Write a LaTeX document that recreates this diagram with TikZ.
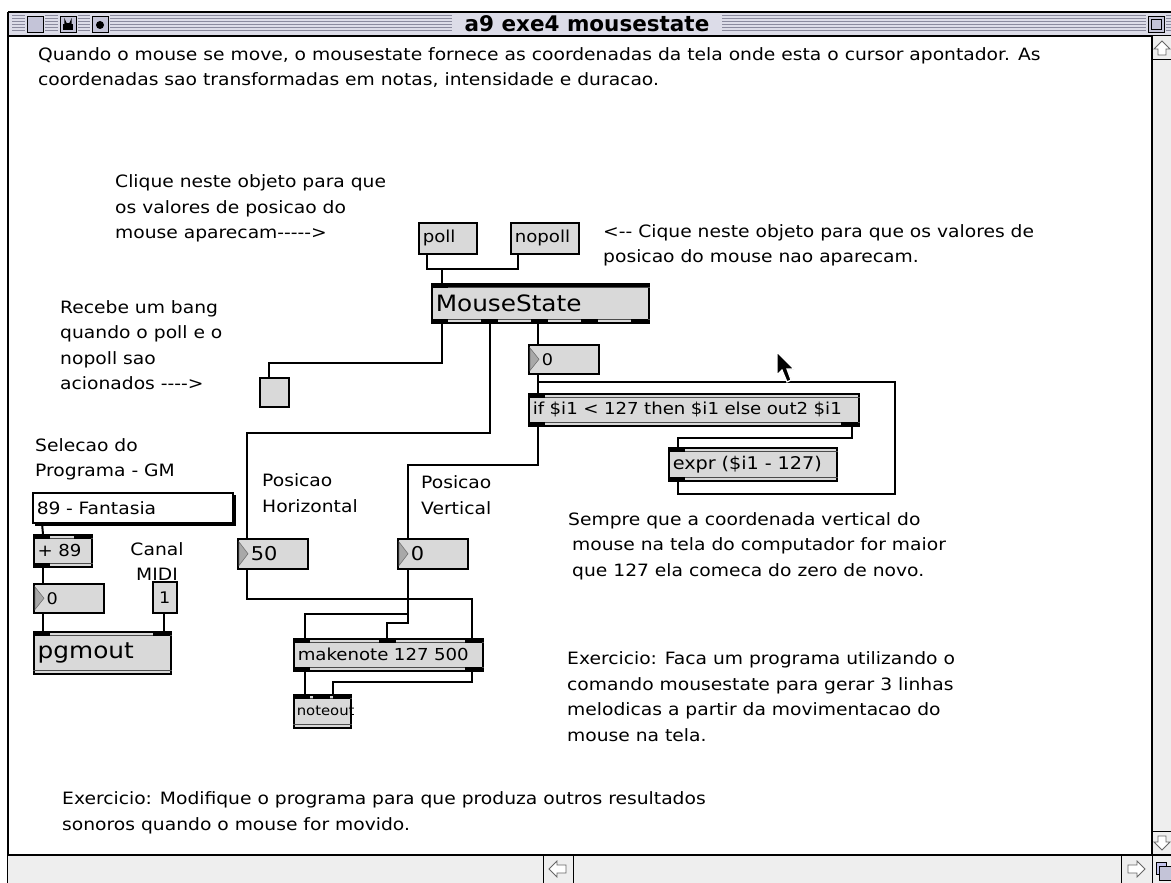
\documentclass[tikz,border=0pt]{standalone}
\usepackage{fontspec}
\newfontfamily\gen[Ligatures=TeXOff,FakeStretch=1.10]{DejaVu Sans}
\newfontfamily\ttlfam[Ligatures=TeXOff]{DejaVu Sans}
\newcommand\lblfont{\gen\fontsize{17}{25.5}\selectfont}
\newcommand\objfont{\gen\fontsize{16.5}{18}\selectfont}
\newcommand\numfont{\gen\fontsize{16}{18}\selectfont}
\newcommand\bignumfont{\gen\fontsize{19}{20}\selectfont}
\newcommand\bigfont{\gen\fontsize{22.5}{26}\selectfont}
\newcommand\titlefont{\ttlfam\bfseries\fontsize{21.5}{24}\selectfont}
\definecolor{objgray}{HTML}{D9D9D9}
\definecolor{barbg}{HTML}{DCDCE8}
\definecolor{stripecol}{HTML}{8A8A9E}
\definecolor{scrollbg}{HTML}{EEEEEE}
\definecolor{tricol}{HTML}{A8A8A8}
\definecolor{iconfill}{HTML}{C4C4D8}
\tikzset{
  cord/.style={line width=2pt},
  lbl/.style={font=\lblfont, align=left, inner sep=0pt, anchor=west},
  patchbox/.style={draw, line width=1.5pt, fill=objgray, anchor=north west,
    inner xsep=4pt, inner ysep=0pt, align=left},
  objbox/.style={patchbox, font=\objfont},
  bigbox/.style={patchbox, font=\bigfont},
  numbox/.style={patchbox, font=\numfont},
  bignumbox/.style={patchbox, font=\bignumfont},
  stripe/.style={draw=stripecol, line width=1pt},
  arrowicon/.style={draw=black!60, line width=0.8pt, fill=white},
}
% double rule along top and bottom of an object box
\newcommand\pbars[1]{\draw[line width=0.8pt, black!70]
  ([yshift=-4.5]#1.north west) -- ([yshift=-4.5]#1.north east)
  ([yshift=4.5]#1.south west) -- ([yshift=4.5]#1.south east);}
\newcommand\pinlet[2]{\fill ([xshift=#2]#1.north west) rectangle ++(17,5);}
\newcommand\poutlet[2]{\fill ([xshift=#2]#1.south west) rectangle ++(17,-5);}
% triangle of a number box
\newcommand\ptri[1]{\draw[fill=tricol, draw=black!55, line width=0.6pt]
  ([xshift=2,yshift=-4]#1.north west) -- ([xshift=11]#1.west) --
  ([xshift=2,yshift=4]#1.south west) -- cycle;}
\begin{document}
\begin{tikzpicture}[x=1pt,y=-1pt]
\useasboundingbox (0,0) rectangle (1171,883);
\fill[white] (0,0) rectangle (1171,883);

% ---------- window frame ----------
\fill[barbg] (8,12) rectangle (1171,36);
\foreach \yy in {16,19,22,25,28,31}
  \draw[stripe] (12,\yy) -- (1171,\yy);
\fill[barbg] (452,13) rectangle (722,35);
\node[font=\titlefont, inner sep=0pt] (title) at (587,24) {a9 exe4 mousestate};
% title bar boxes
\foreach \xx in {25,58,90,1146}
  \fill[barbg] (\xx,13) rectangle ({\xx+20},35);
\draw[fill=iconfill, line width=0.8pt] (27,16) rectangle (43,32);
\draw[fill=iconfill, line width=0.8pt] (60,16) rectangle (76,32);
\fill (63,24) rectangle (73,30);
\draw[line width=1.2pt] (65,24) -- (65,21) arc[start angle=180, end angle=0, radius=3] -- (71,24);
\draw[fill=iconfill, line width=0.8pt] (92,16) rectangle (108,32);
\fill (100,25) circle[radius=4];
\draw[fill=iconfill, line width=0.8pt] (1148,16) rectangle (1164,32);
\draw[line width=0.8pt] (1151,19) rectangle (1161,29);
\draw[line width=1.5pt] (8,12) -- (1171,12);
\draw[line width=1.5pt] (8,12) -- (8,883);
\draw[line width=1.2pt] (8,36) -- (1171,36);

% right scroll bar
\fill[scrollbg] (1152,36) rectangle (1171,855);
\draw[line width=1.2pt] (1152,36) -- (1152,883);
\draw[arrowicon] (1162,41) -- (1170,49) -- (1166,49) -- (1166,55) -- (1158,55) -- (1158,49) -- (1154,49) -- cycle;
\draw[line width=0.8pt] (1152,59) -- (1171,59);
\draw[arrowicon] (1162,850) -- (1170,842) -- (1166,842) -- (1166,836) -- (1158,836) -- (1158,842) -- (1154,842) -- cycle;
\draw[line width=0.8pt] (1152,831) -- (1171,831);

% bottom scroll bar
\fill[scrollbg] (8,855) rectangle (1152,883);
\draw[line width=1.2pt] (8,855) -- (1171,855);
\draw[line width=0.8pt] (543,855) -- (543,883) (573,855) -- (573,883) (1121,855) -- (1121,883);
\draw[arrowicon] (549,869) -- (557,861) -- (557,865) -- (566,865) -- (566,873) -- (557,873) -- (557,877) -- cycle;
\draw[arrowicon] (1145,869) -- (1137,861) -- (1137,865) -- (1128,865) -- (1128,873) -- (1137,873) -- (1137,877) -- cycle;
\fill[scrollbg] (1153,856) rectangle (1171,883);
\draw[fill=iconfill!80!blue!60, line width=0.8pt] (1156,862) rectangle (1166,874);
\draw[fill=iconfill, line width=0.8pt] (1159,866) rectangle (1171,880);

% ---------- comments ----------
\node[lbl] (intro) at (38,67.5) {Quando o mouse se move, o mousestate fornece as coordenadas da tela onde esta o cursor apontador. As\\coordenadas sao transformadas em notas, intensidade e duracao.};
\node[lbl] (clique) at (115,208.5) {Clique neste objeto para que\\os valores de posicao do\\mouse aparecam----->};
\node[lbl] (cique) at (603,245.5) {<-- Cique neste objeto para que os valores de\\posicao do mouse nao aparecam.};
\node[lbl] (recebe) at (60,345) {Recebe um bang\\quando o poll e o\\nopoll sao\\acionados ---->};
\node[lbl] (selecao) at (35,459.5) {Selecao do\\Programa - GM};
\node[lbl, align=center, anchor=center] (canal) at (157,561.5) {Canal\\MIDI};
\node[lbl] (posh) at (262,493) {Posicao\\Horizontal};
\node[lbl] (posv) at (421,495) {Posicao\\Vertical};
\node[lbl] (sempre) at (568,546) {Sempre que a coordenada vertical do\\\hspace*{4pt}mouse na tela do computador for maior\\\hspace*{4pt}que 127 ela comeca do zero de novo.};
\node[lbl] (exer1) at (567,696.5) {Exercicio: Faca um programa utilizando o\\comando mousestate para gerar 3 linhas\\melodicas a partir da movimentacao do\\mouse na tela.};
\node[lbl] (exer2) at (62,813) {Exercicio: Modifique o programa para que produza outros resultados\\sonoros quando o mouse for movido.};

% ---------- patcher boxes ----------
\node[objbox, minimum height=31, text width=50] (poll) at (418,222) {poll};
\node[objbox, minimum height=31, text width=60] (nopoll) at (510,222) {nopoll};

\node[bigbox, minimum height=39, text width=209] (ms) at (431,283) {MouseState};
\pbars{ms}
\fill ([yshift=-1]ms.north west) rectangle ([yshift=-4]ms.north east);
\pinlet{ms}{0}
\foreach \o in {0,50,100,150,200} {\poutlet{ms}{\o}}

\node[patchbox, minimum width=29, minimum height=29, inner sep=0pt] (bang) at (259,377) {};

\node[numbox, minimum height=29, text width=62] (numA) at (528,344) {\hspace*{9pt}0};
\ptri{numA}

\node[objbox, minimum height=32, text width=322] (ifbox) at (528,393) {if \$i1 < 127 then \$i1 else out2 \$i1};
\pbars{ifbox}
\pinlet{ifbox}{0}
\poutlet{ifbox}{0}\poutlet{ifbox}{313}

\node[objbox, font=\gen\fontsize{17.5}{18}\selectfont, minimum height=33, text width=160] (expr) at (668,447) {expr (\$i1 - 127)};
\pbars{expr}
\pinlet{expr}{0}\poutlet{expr}{0}

\node[patchbox, fill=white, font=\lblfont, minimum height=30, text width=192] (menu) at (32,492) {89 - Fantasia};
\draw[line width=2pt] ([xshift=1.5,yshift=-3]menu.north east) -- ([xshift=1.5,yshift=-1.5]menu.south east) -- ([xshift=3,yshift=-1.5]menu.south west);

\node[objbox, minimum height=32, text width=50] (plus) at (33,534) {+ 89};
\pbars{plus}
\pinlet{plus}{0}\pinlet{plus}{41}\poutlet{plus}{0}

\node[numbox, minimum height=29, text width=62] (numB) at (33,583) {\hspace*{9pt}0};
\ptri{numB}

\node[numbox, minimum height=31, text width=18, inner xsep=3pt, align=center] (numC) at (152,581) {1};

\node[bigbox, minimum height=42, text width=129] (pg) at (33,631) {pgmout};
\pbars{pg}
\pinlet{pg}{0}\pinlet{pg}{120}

\node[bignumbox, minimum height=30, text width=62] (numH) at (237,538) {\hspace*{9pt}50};
\ptri{numH}
\node[bignumbox, minimum height=30, text width=62] (numV) at (397,538) {\hspace*{9pt}0};
\ptri{numV}

\node[objbox, minimum height=32, text width=181] (mk) at (293,638) {makenote 127 500};
\pbars{mk}
\pinlet{mk}{0}\pinlet{mk}{86}\pinlet{mk}{172}
\poutlet{mk}{0}\poutlet{mk}{172}

\node[objbox, font=\gen\fontsize{13.5}{16}\selectfont, minimum height=33, text width=51, inner xsep=3pt] (nout) at (293,694) {noteout};
\pbars{nout}
\pinlet{nout}{0}\pinlet{nout}{20}\pinlet{nout}{40}

% ---------- patch cords ----------
\draw[cord] ([xshift=9]poll.south west) -- ++(0,14) -| ([xshift=11]ms.north west);
\draw[cord] ([xshift=8]nopoll.south west) -- ++(0,14) -| ([xshift=11]ms.north west);
\draw[cord] ([xshift=11]ms.south west) -- ++(0,39) -| ([xshift=10]bang.north west);
\draw[cord] ([xshift=59]ms.south west) -- ++(0,109) -| ([xshift=10]numH.north west);
\draw[cord] ([xshift=107]ms.south west) -- ([xshift=10]numA.north west);
\draw[cord] ([xshift=10]numA.south west) -- ([xshift=10]ifbox.north west);
\draw[cord] ([xshift=10]expr.south west) -- ++(0,12) -- ++(217,0)
  |- ([xshift=10,yshift=11]ifbox.north west) -- ([xshift=10]ifbox.north west);
\draw[cord] ([xshift=-8]ifbox.south east) -- ++(0,11) -| ([xshift=10]expr.north west);
\draw[cord] ([xshift=10]ifbox.south west) -- ++(0,38) -| ([xshift=11]numV.north west);
\draw[cord] ([xshift=10]numH.south west) -- ++(0,29) -| ([xshift=-12]mk.north east);
\draw[cord] ([xshift=11]numV.south west) -- ++(0,44) -| ([xshift=12]mk.north west);
\draw[cord] ([xshift=11]numV.south west) -- ++(0,53) -| ([xshift=94]mk.north west);
\draw[cord] ([xshift=12]mk.south west) -- ([xshift=12]nout.north west);
\draw[cord] ([xshift=-12]mk.south east) -- ++(0,10) -| ([xshift=40]nout.north west);
\draw[cord] ([xshift=10]menu.south west) -- ([xshift=10]plus.north west);
\draw[cord] ([xshift=10]plus.south west) -- ([xshift=10]numB.north west);
\draw[cord] ([xshift=10]numB.south west) -- ([xshift=10]pg.north west);
\coordinate (chanout) at ([xshift=12]numC.south west);
\draw[cord] (chanout) -- (chanout |- pg.north);

% ---------- pointer ----------
\draw[fill=black, draw=white, line width=1.2pt, line join=miter]
  (777,352) -- (777,375) -- (782,370) -- (787,382) -- (791,380) -- (787,369) -- (794,369) -- cycle;
\end{tikzpicture}
\end{document}
